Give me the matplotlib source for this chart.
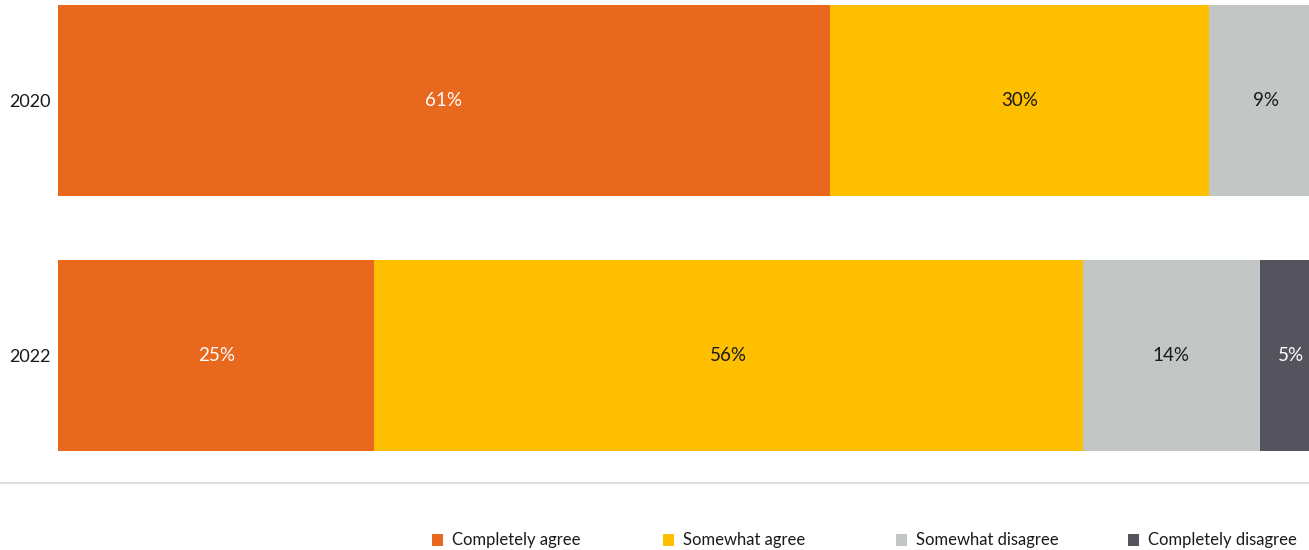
import matplotlib
matplotlib.use("Agg")
import matplotlib.pyplot as plt
from matplotlib.patches import Rectangle
from matplotlib.lines import Line2D

plt.rcParams['font.family'] = ['Lato', 'DejaVu Sans']

years = ["2020", "2022"]
categories = ["Completely agree", "Somewhat agree", "Somewhat disagree", "Completely disagree"]
values = {
    "Completely agree": [61, 25],
    "Somewhat agree": [30, 56],
    "Somewhat disagree": [9, 14],
    "Completely disagree": [0, 5],
}
colors = ["#E8681E", "#FDBF00", "#C2C7C6", "#55545E"]
text_colors = ["white", "#1a1a1a", "#1a1a1a", "white"]

W, H = 1309, 550
fig = plt.figure(figsize=(W / 100, H / 100), dpi=100)
ax = fig.add_axes([58 / W, 67 / H, 1265 / W, 483 / H])

left = [0, 0]
for cat, col, tcol in zip(categories, colors, text_colors):
    vals = values[cat]
    for i, v in enumerate(vals):
        if v <= 0:
            continue
        ax.barh(i, v, left=left[i], height=0.749, color=col, linewidth=0)
        ax.text(left[i] + v / 2, i, f"{v}%", ha="center", va="center",
                color=tcol, fontsize=13.5)
        left[i] += v

ax.set_xlim(0, 100)
ax.set_ylim(1.5, -0.394)
ax.set_yticks(range(len(years)))
ax.set_yticklabels(years, fontsize=13, color="#1a1a1a")
ax.tick_params(axis="y", length=0, pad=5)
ax.set_xticks([])
for s in ax.spines.values():
    s.set_visible(False)

# separator line above the legend
fig.add_artist(Line2D([0, 1], [67 / H, 67 / H], color="#d9d9d9", linewidth=1.2))

# legend entries laid out in a single row
legend_x = [432, 663, 896, 1128]
for x, c, label in zip(legend_x, colors, categories):
    fig.add_artist(Rectangle((x / W, 1 - 546 / H), 11 / W, 12 / H,
                             facecolor=c, edgecolor="none", transform=fig.transFigure))
    fig.text((x + 20) / W, 1 - 540 / H, label, ha="left", va="center",
             fontsize=12, color="#1a1a1a")

fig.savefig("out.png", dpi=100)
